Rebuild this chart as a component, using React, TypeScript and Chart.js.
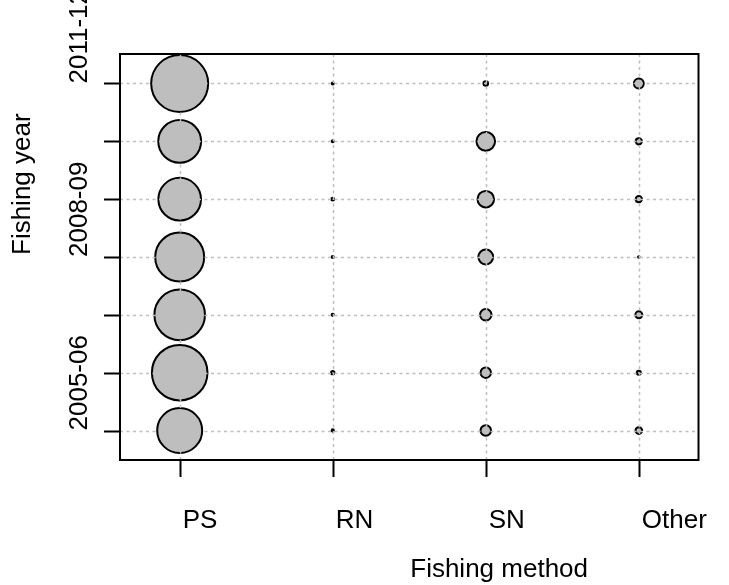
import { useEffect, useRef } from "react";
import { Chart, registerables } from "chart.js";

Chart.register(...registerables);

// Fishing methods along the x axis
const methods = ["PS", "RN", "SN", "Other"];
// Fishing years along the y axis, oldest at the bottom
const years = ["2005-06", "2006-07", "2007-08", "2008-09", "2009-10", "2010-11", "2011-12"];
// Years that carry a tick label
const labelledYears = ["2005-06", "2008-09", "2011-12"];

// Catch by method for each fishing year (same order as `years`)
const catchPS = [623, 951, 788, 739, 559, 564, 1000];
const catchRN = [1.6, 3.5, 1.4, 1.4, 2.4, 1.2, 1.2];
const catchSN = [34, 34, 41, 67, 84, 107, 6.5];
const catchOther = [14, 5, 15, 0.8, 12, 12, 30];

const catchByMethod = [catchPS, catchRN, catchSN, catchOther];

const FONT = '26px "Liberation Sans", Arial, Helvetica, sans-serif';
const MAX_RADIUS = 28.5;
const FILL = "#bebebe";

const maxCatch = Math.max(...catchByMethod.flat());
// circle area proportional to catch
const radiusFor = (v: number) => MAX_RADIUS * Math.sqrt(v / maxCatch);

const framePlugin = {
  id: "frame",
  beforeDraw(chart: any) {
    const { ctx, width, height } = chart;
    ctx.save();
    ctx.fillStyle = "#ffffff";
    ctx.fillRect(0, 0, width, height);
    ctx.restore();
  },
  afterDatasetsDraw(chart: any) {
    const { ctx, chartArea: a } = chart;
    const x = chart.scales.x;
    const y = chart.scales.y;

    // dotted grid, drawn over the circles
    ctx.save();
    ctx.beginPath();
    ctx.rect(a.left, a.top, a.right - a.left, a.bottom - a.top);
    ctx.clip();
    ctx.strokeStyle = FILL;
    ctx.lineWidth = 1.5;
    ctx.setLineDash([3, 3.5]);
    methods.forEach((_, i) => {
      const px = Math.round(x.getPixelForValue(i + 1)) + 0.5;
      ctx.beginPath();
      ctx.moveTo(px, a.top);
      ctx.lineTo(px, a.bottom);
      ctx.stroke();
    });
    years.forEach((_, j) => {
      const py = Math.round(y.getPixelForValue(j)) + 0.5;
      ctx.beginPath();
      ctx.moveTo(a.left, py);
      ctx.lineTo(a.right, py);
      ctx.stroke();
    });
    ctx.restore();

    // box and tick marks
    ctx.save();
    ctx.strokeStyle = "#000";
    ctx.lineWidth = 2;
    ctx.strokeRect(a.left, a.top, a.right - a.left, a.bottom - a.top);
    methods.forEach((_, i) => {
      const px = Math.round(x.getPixelForValue(i + 1)) + 0.5;
      ctx.beginPath();
      ctx.moveTo(px, a.bottom);
      ctx.lineTo(px, a.bottom + 17);
      ctx.stroke();
    });
    years.forEach((_, j) => {
      const py = Math.round(y.getPixelForValue(j)) + 0.5;
      ctx.beginPath();
      ctx.moveTo(a.left - 16, py);
      ctx.lineTo(a.left, py);
      ctx.stroke();
    });

    // labels
    ctx.fillStyle = "#000";
    ctx.font = FONT;
    ctx.textAlign = "left";
    ctx.textBaseline = "alphabetic";
    methods.forEach((m, i) => {
      ctx.fillText(m, x.getPixelForValue(i + 1) + 3, 528);
    });
    ctx.fillText("Fishing method", (a.left + a.right) / 2 + 1, 577);

    labelledYears.forEach((label) => {
      const py = y.getPixelForValue(years.indexOf(label));
      ctx.save();
      ctx.translate(87, py);
      ctx.rotate(-Math.PI / 2);
      ctx.fillText(label, 0, 0);
      ctx.restore();
    });

    ctx.save();
    ctx.translate(30, (a.top + a.bottom) / 2 - 2);
    ctx.rotate(-Math.PI / 2);
    ctx.fillText("Fishing year", 0, 0);
    ctx.restore();
    ctx.restore();
  },
};

export default function App() {
  const canvasRef = useRef<HTMLCanvasElement | null>(null);

  useEffect(() => {
    const canvas = canvasRef.current;
    if (!canvas) return;

    const points = catchByMethod.flatMap((series, i) =>
      series.map((v, j) => ({ x: i + 1, y: j, r: radiusFor(v) }))
    );

    const chart = new Chart(canvas, {
      type: "bubble",
      data: {
        datasets: [
          {
            label: "Catch",
            data: points,
            backgroundColor: FILL,
            borderColor: "#000000",
            borderWidth: 2,
            clip: false,
          } as any,
        ],
      },
      options: {
        responsive: false,
        animation: false,
        events: [],
        layout: { padding: { left: 120, top: 54, right: 9, bottom: 125 } },
        plugins: {
          legend: { display: false },
          tooltip: { enabled: false },
        },
        scales: {
          x: { type: "linear", display: false, min: 0.61, max: 4.39 },
          y: { type: "linear", display: false, min: -0.51, max: 6.51 },
        },
      },
      plugins: [framePlugin],
    });

    return () => chart.destroy();
  }, []);

  return (
    <div style={{ position: "fixed", left: 0, top: 0, width: 729, height: 585 }}>
      <canvas ref={canvasRef} width={729} height={585} style={{ width: 729, height: 585 }} />
    </div>
  );
}
